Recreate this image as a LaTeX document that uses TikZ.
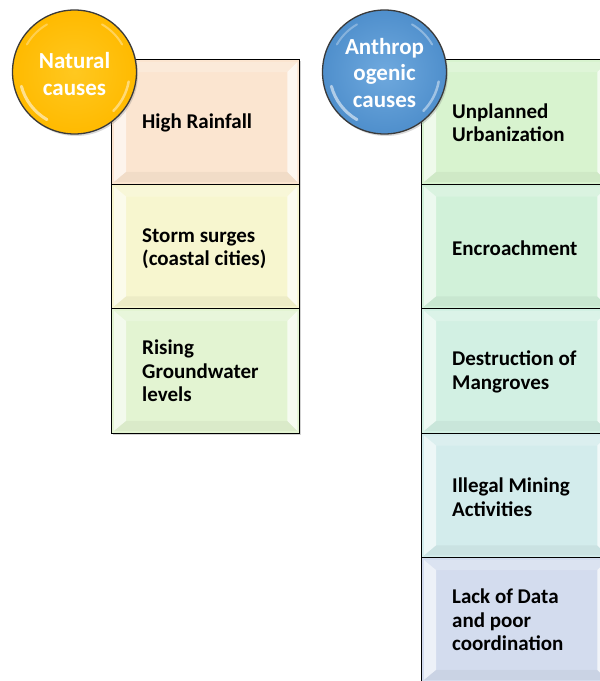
\documentclass[tikz,border=0pt]{standalone}
\usepackage{fontspec}
\setmainfont{Carlito}
\usetikzlibrary{calc,shadows}
\definecolor{peach}{HTML}{FBE5D0}
\definecolor{cream}{HTML}{F7F6CF}
\definecolor{leaf}{HTML}{E3F4D2}
\definecolor{mintA}{HTML}{D8F3CF}
\definecolor{mintB}{HTML}{D1F1D9}
\definecolor{mintC}{HTML}{D2F0E3}
\definecolor{aqua}{HTML}{D3ECEC}
\definecolor{lav}{HTML}{D3DCEE}
\definecolor{gold}{HTML}{FFBA00}
\definecolor{goldlight}{HTML}{FFC820}
\definecolor{sky}{HTML}{4F8FCC}
\definecolor{skylight}{HTML}{6FA9DE}
\definecolor{rim}{HTML}{3A3A3A}
\begin{document}
\begin{tikzpicture}[x=1pt,y=-1pt,
  cell/.style={draw=black, line width=1.4pt, minimum width=188pt,
    minimum height=124.5pt, inner sep=0pt, anchor=north west,
    drop shadow={shadow xshift=1pt, shadow yshift=-1.5pt, opacity=.35}},
  celltext/.style={anchor=west, align=left, inner sep=0pt,
    font=\bfseries\fontsize{21}{23.5}\selectfont},
  ball/.style={circle, draw=rim, line width=1.3pt, minimum size=124pt,
    inner sep=0pt, text=white, align=center,
    font=\bfseries\fontsize{23}{26.5}\selectfont,
    drop shadow={shadow xshift=1.5pt, shadow yshift=-2pt, opacity=.3}},
  gloss/.style={white, line cap=round}]
\useasboundingbox (0,0) rectangle (600,681);
\clip (0,0) rectangle (600,681);

% natural causes column
\node[cell, fill=peach] (n1) at (111,59) {};
\node[cell, fill=cream] (n2) at (111,183.5) {};
\node[cell, fill=leaf]  (n3) at (111,308) {};

% anthropogenic causes column
\node[cell, fill=mintA] (a1) at (421,59) {};
\node[cell, fill=mintB] (a2) at (421,183.5) {};
\node[cell, fill=mintC] (a3) at (421,308) {};
\node[cell, fill=aqua]  (a4) at (421,432.5) {};
\node[cell, fill=lav]   (a5) at (421,557) {};

% bevelled edges of the cells
\foreach \c in {n1,n2,n3,a1,a2,a3,a4,a5}{
  \fill[white, opacity=.6] ($(\c.north west)+(3,3)$) -- ($(\c.north west)+(15,13)$)
    -- ($(\c.south west)+(15,-13)$) -- ($(\c.south west)+(3,-3)$) -- cycle;
  \fill[white, opacity=.7] ($(\c.north east)+(-3,3)$) -- ($(\c.north east)+(-13,13)$)
    -- ($(\c.south east)+(-13,-13)$) -- ($(\c.south east)+(-3,-3)$) -- cycle;
  \fill[white, opacity=.2] ($(\c.north west)+(3,3)$) -- ($(\c.north east)+(-3,3)$)
    -- ($(\c.north east)+(-13,13)$) -- ($(\c.north west)+(15,13)$) -- cycle;
  \fill[black, opacity=.04] ($(\c.south west)+(3,-3)$) -- ($(\c.south east)+(-3,-3)$)
    -- ($(\c.south east)+(-13,-13)$) -- ($(\c.south west)+(15,-13)$) -- cycle;
}

% cell labels
\node[celltext] at ($(n1.west)+(31,1)$) {High Rainfall};
\node[celltext] at ($(n2.west)+(31,2)$) {Storm surges\\(coastal cities)};
\node[celltext] at ($(n3.west)+(31,0)$) {Rising\\Groundwater\\levels};
\node[celltext] at ($(a1.west)+(31,1)$) {Unplanned\\Urbanization};
\node[celltext] at ($(a2.west)+(31,2)$) {Encroachment};
\node[celltext] at ($(a3.west)+(31,1)$) {Destruction of\\Mangroves};
\node[celltext] at ($(a4.west)+(31,2)$) {Illegal Mining\\Activities};
\node[celltext] at ($(a5.west)+(31,0)$) {Lack of Data\\and poor\\coordination};

% category discs with a glossy rim
\node[ball, inner color=goldlight, outer color=gold] (nat) at (74.5,72) {};
\node[ball, inner color=skylight, outer color=sky] (ant) at (384.5,72) {};
\foreach \b in {nat,ant}{
  \draw[gloss, opacity=.55, line width=3pt]
    ($(\b.center)+(195:55pt)$) arc[start angle=195, end angle=240, radius=55pt];
  \draw[gloss, opacity=.45, line width=2.5pt]
    ($(\b.center)+(-10:55pt)$) arc[start angle=-10, end angle=-45, radius=55pt];
  \draw[gloss, opacity=.35, line width=2pt]
    ($(\b.center)+(60:55pt)$) arc[start angle=60, end angle=30, radius=55pt];
  \draw[gloss, opacity=.3, line width=2pt]
    ($(\b.center)+(150:55pt)$) arc[start angle=150, end angle=120, radius=55pt];
}
\node[text=white, align=center, font=\bfseries\fontsize{23}{26.5}\selectfont]
  at ($(nat.center)+(0,2)$) {Natural\\causes};
\node[text=white, align=center, font=\bfseries\fontsize{23}{26.5}\selectfont]
  at ($(ant.center)+(0,1)$) {Anthrop\\ogenic\\causes};
\end{tikzpicture}
\end{document}
